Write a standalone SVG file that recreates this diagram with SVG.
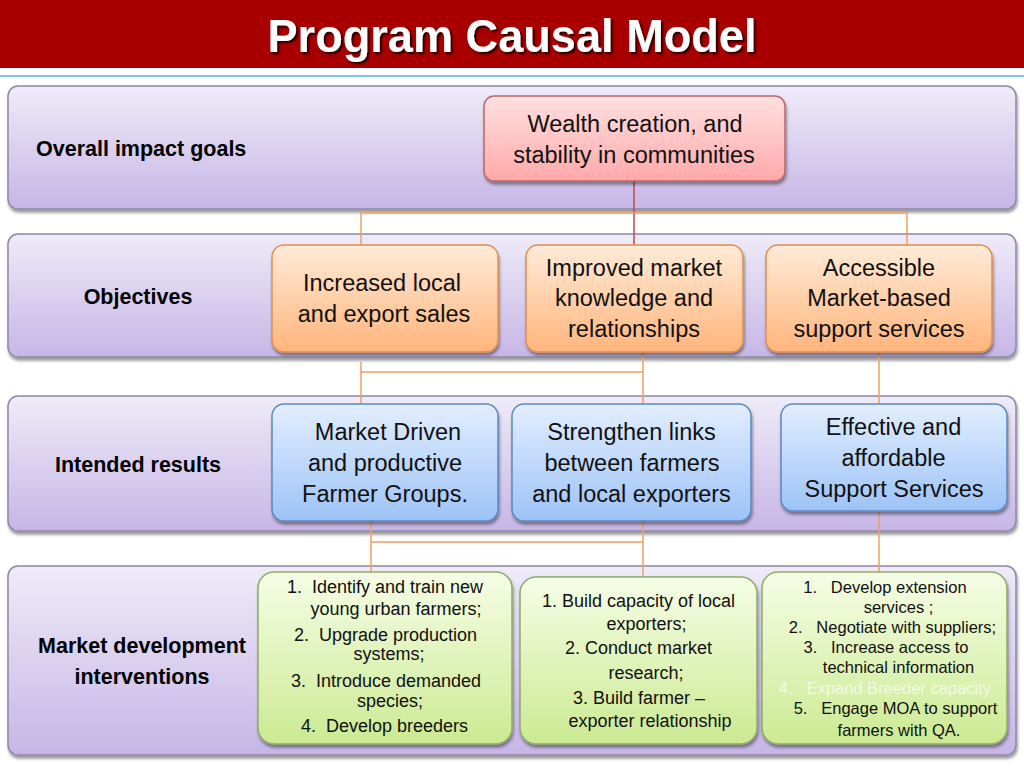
<svg xmlns="http://www.w3.org/2000/svg" width="1024" height="768" viewBox="0 0 1024 768">
<defs>
<linearGradient id="gBand" x1="0" y1="0" x2="0" y2="1"><stop offset="0" stop-color="#EFEBF8"/><stop offset="1" stop-color="#C6B6E6"/></linearGradient>
<linearGradient id="gPink" x1="0" y1="0" x2="0" y2="1"><stop offset="0" stop-color="#FFE0E0"/><stop offset="1" stop-color="#FFA9A9"/></linearGradient>
<linearGradient id="gOrange" x1="0" y1="0" x2="0" y2="1"><stop offset="0" stop-color="#FFEBD8"/><stop offset="1" stop-color="#FFB57C"/></linearGradient>
<linearGradient id="gBlue" x1="0" y1="0" x2="0" y2="1"><stop offset="0" stop-color="#E2EEFF"/><stop offset="1" stop-color="#9DC3F7"/></linearGradient>
<linearGradient id="gGreen" x1="0" y1="0" x2="0" y2="1"><stop offset="0" stop-color="#F6FDE6"/><stop offset="1" stop-color="#CBEA92"/></linearGradient>
<filter id="sh" x="-5%" y="-5%" width="110%" height="120%"><feDropShadow dx="1" dy="3" stdDeviation="1.5" flood-color="#000" flood-opacity="0.4"/></filter>
<filter id="tsh" x="-5%" y="-20%" width="110%" height="140%"><feDropShadow dx="2" dy="2" stdDeviation="0.8" flood-color="#000" flood-opacity="0.8"/></filter>
</defs>
<style>
.band{fill:url(#gBand);stroke:#8E86A6;stroke-width:1.5}
.pink{fill:url(#gPink);stroke:#C06666;stroke-width:1.5}
.orange{fill:url(#gOrange);stroke:#E0904C;stroke-width:1.5}
.blue{fill:url(#gBlue);stroke:#5C88C2;stroke-width:1.5}
.green{fill:url(#gGreen);stroke:#8EAA66;stroke-width:1.5}
.lbl{font-family:"Liberation Sans",Arial,sans-serif;font-weight:bold;font-size:21.5px;fill:#000}
.t{font-family:"Liberation Sans",Arial,sans-serif;font-size:23.5px;fill:#111;text-anchor:middle}
.s{font-family:"Liberation Sans",Arial,sans-serif;font-size:18px;fill:#111;text-anchor:middle;white-space:pre}
.xs{font-family:"Liberation Sans",Arial,sans-serif;font-size:16.5px;fill:#111;text-anchor:middle;white-space:pre}
.ol{stroke:#F0A062;stroke-width:1.5;fill:none}
.rl{stroke:#C04848;stroke-width:1.5;fill:none}
</style>
<rect x="0" y="0" width="1024" height="768" fill="#FFFFFF"/>
<g id="title">
<rect x="0" y="0" width="1024" height="68" fill="#A80000"/>
<rect x="0" y="75" width="1024" height="2" fill="#7DC6EE"/>
<text x="512" y="52" text-anchor="middle" font-family="'Liberation Sans',Arial,sans-serif" font-weight="bold" font-size="47" fill="#FFFFFF" filter="url(#tsh)" textLength="489" lengthAdjust="spacingAndGlyphs">Program Causal Model</text>
</g>
<g id="band1"><rect class="band" x="8" y="86" width="1008" height="123" rx="10" filter="url(#sh)"/><text class="lbl" x="36" y="156">Overall impact goals</text></g>
<g id="band2"><rect class="band" x="8" y="234" width="1008" height="123" rx="10" filter="url(#sh)"/><text class="lbl" x="138" y="304" text-anchor="middle">Objectives</text></g>
<g id="band3"><rect class="band" x="8" y="396" width="1008" height="135" rx="10" filter="url(#sh)"/><text class="lbl" x="138" y="472" text-anchor="middle">Intended results</text></g>
<g id="band4"><rect class="band" x="8" y="566" width="1008" height="189" rx="10" filter="url(#sh)"/><text class="lbl" x="142" y="653" text-anchor="middle">Market development</text><text class="lbl" x="142" y="684" text-anchor="middle">interventions</text></g>
<g id="connectors">
<path class="rl" d="M634 181 V245"/>
<path class="ol" d="M361 245 V213 H907 V245"/>
<path class="ol" d="M361 362 V404 M361 372 H643 M643 352 V404 M879 352 V404"/>
<path class="ol" d="M371 521 V578 M371 542 H643 M643 521 V578 M879 511 V572"/>
</g>
<g id="goal"><rect class="pink" x="484" y="96" width="301" height="85" rx="10" filter="url(#sh)"/><text class="t" x="635" y="132">Wealth creation, and</text><text class="t" x="634" y="163">stability in communities</text></g>
<g id="obj1"><rect class="orange" x="272" y="245" width="226" height="107" rx="12" filter="url(#sh)"/><text class="t" x="382" y="291">Increased local</text><text class="t" x="384" y="322">and export sales</text></g>
<g id="obj2"><rect class="orange" x="526" y="245" width="217" height="107" rx="12" filter="url(#sh)"/><text class="t" x="634" y="276">Improved market</text><text class="t" x="634" y="306">knowledge and</text><text class="t" x="634" y="337">relationships</text></g>
<g id="obj3"><rect class="orange" x="766" y="245" width="226" height="107" rx="12" filter="url(#sh)"/><text class="t" x="879" y="276">Accessible</text><text class="t" x="879" y="306">Market-based</text><text class="t" x="879" y="337">support services</text></g>
<g id="res1"><rect class="blue" x="272" y="404" width="226" height="117" rx="12" filter="url(#sh)"/><text class="t" x="388" y="440">Market Driven</text><text class="t" x="385" y="471">and productive</text><text class="t" x="385" y="502">Farmer Groups.</text></g>
<g id="res2"><rect class="blue" x="512" y="404" width="239" height="117" rx="12" filter="url(#sh)"/><text class="t" x="631.5" y="440">Strengthen links</text><text class="t" x="632" y="471">between farmers</text><text class="t" x="631.5" y="502">and local exporters</text></g>
<g id="res3"><rect class="blue" x="781" y="404" width="226" height="107" rx="12" filter="url(#sh)"/><text class="t" x="893.5" y="435">Effective and</text><text class="t" x="893.5" y="466">affordable</text><text class="t" x="894" y="497">Support Services</text></g>
<g id="int1"><rect class="green" x="258" y="572" width="254" height="172" rx="16" filter="url(#sh)"/>
<text class="s" xml:space="preserve" x="385" y="593">1.  Identify and train new</text>
<text class="s" x="396" y="615">young urban farmers;</text>
<text class="s" xml:space="preserve" x="385.5" y="641">2.  Upgrade production</text>
<text class="s" x="389" y="660">systems;</text>
<text class="s" xml:space="preserve" x="386" y="687">3.  Introduce demanded</text>
<text class="s" x="390" y="707">species;</text>
<text class="s" xml:space="preserve" x="384.5" y="732">4.  Develop breeders</text></g>
<g id="int2"><rect class="green" x="520" y="577" width="237" height="167" rx="16" filter="url(#sh)"/>
<text class="s" x="638.5" y="607">1. Build capacity of local</text>
<text class="s" x="646.5" y="630">exporters;</text>
<text class="s" x="638.5" y="654">2. Conduct market</text>
<text class="s" x="646" y="679">research;</text>
<text class="s" x="639" y="704">3. Build farmer –</text>
<text class="s" x="650" y="727">exporter relationship</text></g>
<g id="int3"><rect class="green" x="762" y="572" width="245" height="172" rx="16" filter="url(#sh)"/>
<text class="xs" xml:space="preserve" x="885" y="593">1.   Develop extension</text>
<text class="xs" x="898.5" y="613">services ;</text>
<text class="xs" xml:space="preserve" x="892.5" y="633">2.   Negotiate with suppliers;</text>
<text class="xs" xml:space="preserve" x="886" y="653">3.   Increase access to</text>
<text class="xs" x="898.5" y="673">technical information</text>
<text class="xs" xml:space="preserve" x="885" y="694" style="fill:#F2FAE2">4.   Expand Breeder capacity</text>
<text class="xs" xml:space="preserve" x="895.5" y="714">5.   Engage MOA to support</text>
<text class="xs" x="899" y="736">farmers with QA.</text></g>
</svg>
